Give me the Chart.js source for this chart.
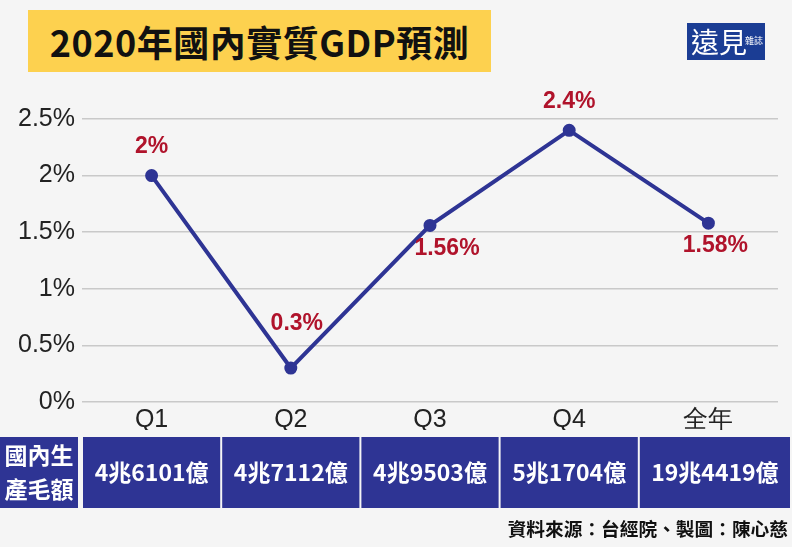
<!DOCTYPE html>
<html>
<head>
<meta charset="utf-8">
<script src="https://cdn.jsdelivr.net/npm/chart.js@4"></script>
<style>
  body { margin: 0; background: #f5f5f5; font-family: "Noto Sans CJK TC", "Noto Sans", sans-serif; }
  #wrap { position: relative; width: 792px; height: 547px; }
  #title { position: absolute; left: 28px; top: 10px; width: 463px; height: 62px; background: #fdd14f;
           font-weight: bold; font-size: 36px; letter-spacing: 0.5px; line-height: 62px; text-align: center; color: #111; }
  #logo { position: absolute; left: 687px; top: 23px; width: 78px; height: 37px; background: #1b3d94; color: #fff; }
  #logo .big { position: absolute; left: 4px; top: 0px; font-size: 28px; line-height: 36px; font-family: "Noto Sans CJK TC"; }
  #logo .small { position: absolute; left: 58px; top: 11px; font-size: 9px; }
  #foot { position: absolute; right: 4px; top: 514px; font-weight: bold; font-size: 18.7px; color: #111; }
  canvas { position: absolute; left: 0; top: 0; }
</style>
</head>
<body>
<div id="wrap">
  <canvas id="gdpChart" width="792" height="547"></canvas>
  <div id="title">2020年國內實質GDP預測</div>
  <div id="logo"><span class="big">遠見</span><span class="small">雜誌</span></div>
  <div id="foot">資料來源：台經院、製圖：陳心慈</div>
</div>
<script>
const categories = ['Q1', 'Q2', 'Q3', 'Q4', '全年'];
const growth = [2, 0.3, 1.56, 2.4, 1.58];
const growthLabels = ['2%', '0.3%', '1.56%', '2.4%', '1.58%'];
const labelAbove = [true, true, false, true, false];
const gdpAmounts = ['4兆6101億', '4兆7112億', '4兆9503億', '5兆1704億', '19兆4419億'];
const rowTitle = ['國內生', '產毛額'];

const blue = '#2e3494';

// value labels and the table row under the x axis
const extras = {
  id: 'extras',
  afterDatasetsDraw(chart) {
    const ctx = chart.ctx;
    const meta = chart.getDatasetMeta(0);
    ctx.save();
    ctx.font = 'bold 23px "Liberation Sans", Arial, sans-serif';
    ctx.fillStyle = '#b0132b';
    ctx.textAlign = 'center';
    ctx.textBaseline = 'middle';
    meta.data.forEach((pt, i) => {
      let dx = 0, dy = labelAbove[i] ? -29 : 23;
      if (i === 1) { dx = 6; dy = -44; }
      if (i === 2) dx = 17;
      if (i === 4) dx = 7;
      ctx.fillText(growthLabels[i], pt.x + dx, pt.y + dy);
    });
    ctx.restore();
  },
  afterDraw(chart) {
    const ctx = chart.ctx;
    const x = chart.scales.x;
    const top = 437, h = 71;
    const half = (x.getPixelForValue(1) - x.getPixelForValue(0)) / 2;
    ctx.save();
    ctx.fillStyle = blue;
    ctx.fillRect(0, top, 78, h);
    ctx.fillStyle = '#fff';
    ctx.font = 'bold 23px "Noto Sans CJK TC", sans-serif';
    ctx.textAlign = 'center';
    ctx.textBaseline = 'middle';
    ctx.fillText(rowTitle[0], 39, top + 18);
    ctx.fillText(rowTitle[1], 39, top + 52);
    categories.forEach((c, i) => {
      const cx = x.getPixelForValue(i);
      const l = cx - half + 1;
      const r = i === categories.length - 1 ? 790 : cx + half - 1;
      ctx.fillStyle = blue;
      ctx.fillRect(l, top, r - l, h);
      ctx.fillStyle = '#fff';
      ctx.font = 'bold 23px "Noto Sans CJK TC", sans-serif';
      ctx.fillText(gdpAmounts[i], (l + r) / 2, top + h / 2);
    });
    ctx.restore();
  }
};

new Chart(document.getElementById('gdpChart'), {
  type: 'line',
  data: {
    labels: categories,
    datasets: [{
      data: growth,
      borderColor: blue,
      backgroundColor: blue,
      borderWidth: 4,
      pointRadius: 4.5,
      pointHoverRadius: 4.5,
      tension: 0
    }]
  },
  options: {
    responsive: false,
    animation: false,
    layout: { padding: { top: 119, right: 14, bottom: 117, left: 0 } },
    plugins: { legend: { display: false }, tooltip: { enabled: false } },
    scales: {
      x: {
        offset: true,
        grid: { display: false },
        border: { display: false },
        ticks: { color: '#222', font: { size: 25, family: '"Liberation Sans", Arial, sans-serif' }, padding: -5 }
      },
      y: {
        min: 0, max: 2.5,
        afterFit: s => { s.width = 82; },
        grid: { color: '#c9c9c9', lineWidth: 1.5, drawTicks: false },
        border: { display: false },
        ticks: {
          stepSize: 0.5, padding: 7, color: '#222',
          font: { size: 25, family: '"Liberation Sans", Arial, sans-serif' },
          callback: v => v + '%'
        }
      }
    }
  },
  plugins: [extras]
});
</script>
</body>
</html>
